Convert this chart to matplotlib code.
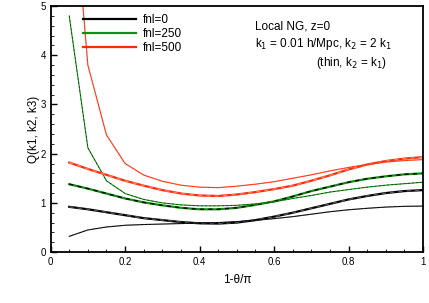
import numpy as np
import matplotlib
matplotlib.use('Agg')
import matplotlib.pyplot as plt
from matplotlib.ticker import MultipleLocator

plt.rcParams['font.family'] = ['Liberation Sans', 'DejaVu Sans']

# 1 - theta/pi
x = [0.05, 0.1, 0.15, 0.2, 0.25, 0.3, 0.35, 0.4, 0.45, 0.5,
     0.55, 0.6, 0.65, 0.7, 0.75, 0.8, 0.85, 0.9, 0.95, 1.0]

# k2 = 2 k1 (thick)
q_fnl0 = [0.92, 0.87, 0.81, 0.75, 0.69, 0.65, 0.61, 0.585, 0.58, 0.60,
          0.65, 0.72, 0.80, 0.89, 0.98, 1.07, 1.14, 1.20, 1.24, 1.26]
q_fnl250 = [1.38, 1.29, 1.19, 1.09, 1.01, 0.95, 0.90, 0.87, 0.87, 0.90,
            0.96, 1.03, 1.13, 1.24, 1.33, 1.42, 1.49, 1.54, 1.58, 1.60]
q_fnl500 = [1.82, 1.69, 1.57, 1.45, 1.35, 1.26, 1.19, 1.15, 1.14, 1.17,
            1.22, 1.28, 1.35, 1.45, 1.56, 1.68, 1.78, 1.85, 1.90, 1.93]

# thin, k2 = k1
q_fnl0_thin = [0.32, 0.45, 0.51, 0.545, 0.56, 0.57, 0.58, 0.59, 0.60, 0.62,
               0.645, 0.68, 0.72, 0.77, 0.82, 0.86, 0.89, 0.915, 0.93, 0.935]
q_fnl250_thin = [4.80, 2.12, 1.45, 1.19, 1.07, 1.00, 0.96, 0.94, 0.94, 0.95,
                 0.98, 1.02, 1.09, 1.15, 1.22, 1.27, 1.32, 1.36, 1.39, 1.42]
q_fnl500_thin = [8.3, 3.80, 2.38, 1.80, 1.565, 1.44, 1.36, 1.32, 1.31, 1.34,
                 1.38, 1.43, 1.50, 1.57, 1.65, 1.72, 1.78, 1.83, 1.86, 1.88]

labels = ['fnl=0', 'fnl=250', 'fnl=500']
colors = ['black', '#109010', '#ff2a0a']
dash_colors = ['#555555', 'black', '#ff8060']

fig = plt.figure(figsize=(4.29, 3.03), dpi=100)
ax = fig.add_axes([0.118, 0.168, 0.868, 0.812])

thick = [q_fnl0, q_fnl250, q_fnl500]
thin = [q_fnl0_thin, q_fnl250_thin, q_fnl500_thin]
for i in range(3):
    ax.plot(x, thick[i], color=colors[i], lw=1.6, label=labels[i])
    ax.plot(x, thick[i], color=dash_colors[i], lw=1.0, ls=(0, (3, 3)))
    ax.plot(x, thin[i], color=colors[i], lw=0.8)
    ax.plot(x, thin[i], color=dash_colors[i], lw=0.5, ls=(0, (3, 3)), alpha=0.6)

ax.set_xlim(0, 1)
ax.set_ylim(0, 5)
ax.xaxis.set_major_locator(MultipleLocator(0.2))
ax.xaxis.set_minor_locator(MultipleLocator(0.05))
ax.yaxis.set_major_locator(MultipleLocator(1))
ax.yaxis.set_minor_locator(MultipleLocator(0.2))
ax.set_xticks([0, 0.2, 0.4, 0.6, 0.8, 1])
ax.set_xticklabels(['0', '0.2', '0.4', '0.6', '0.8', '1'])
ax.tick_params(which='both', direction='in', top=False, right=False, labelsize=7)
ax.tick_params(which='major', length=4, width=1)
ax.tick_params(which='minor', length=2, width=0.6)
for s in ax.spines.values():
    s.set_linewidth(1.3)

ax.set_xlabel('1-θ/π', fontsize=8.5, labelpad=5)
ax.set_ylabel('Q(k1, k2, k3)', fontsize=8.5, labelpad=0)

ax.legend(loc='upper left', bbox_to_anchor=(0.065, 1.0), frameon=False,
          fontsize=8.5, handlelength=4.5, handletextpad=0.6, labelspacing=0.15,
          borderaxespad=0.3)

ax.text(0.548, 0.905, 'Local NG, z=0', transform=ax.transAxes, fontsize=8.5)
ax.text(0.548, 0.835, r'k$_1$ = 0.01 h/Mpc, k$_2$ = 2 k$_1$',
        transform=ax.transAxes, fontsize=8.5)
ax.text(0.714, 0.755, r'(thin, k$_2$ = k$_1$)', transform=ax.transAxes, fontsize=8.5)

fig.savefig('out.png', dpi=100)
